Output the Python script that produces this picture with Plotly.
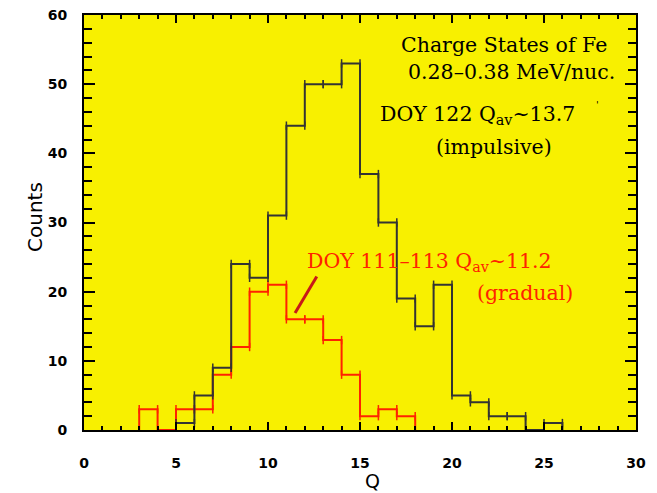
import plotly.graph_objects as go

# Fe charge-state histograms (bin left edges, counts; bin width 1)
impulsive_q = [5, 6, 7, 8, 9, 10, 11, 12, 13, 14, 15, 16, 17, 18, 19, 20, 21, 22, 23, 24, 25]
impulsive_counts = [1, 5, 9, 24, 22, 31, 44, 50, 50, 53, 37, 30, 19, 15, 21, 5, 4, 2, 2, 0, 1]

gradual_q = [3, 4, 5, 6, 7, 8, 9, 10, 11, 12, 13, 14, 15, 16, 17]
gradual_counts = [3, 0, 3, 3, 8, 12, 20, 21, 16, 16, 13, 8, 2, 3, 2]

x_ticks = [0, 5, 10, 15, 20, 25, 30]
y_ticks = [0, 10, 20, 30, 40, 50, 60]

BLACK = "#333333"
RED = "#ff2200"
YELLOW = "#f8f000"
SERIF = "DejaVu Serif"


def step_trace(q, c, color):
    xs = [q[0]] + q + [q[-1] + 1]
    ys = [0] + c + [0]
    return go.Scatter(x=xs, y=ys, mode="lines", line=dict(color=color, width=2, shape="hv"),
                      hoverinfo="skip", showlegend=False)


def edge_marks(q, c, color):
    xs, ys = [], []
    for qi, ci in zip(q, c):
        if ci > 0:
            xs += [qi, qi + 1]
            ys += [ci, ci]
    return go.Scatter(x=xs, y=ys, mode="markers",
                      marker=dict(symbol="line-ns-open", size=6, color=color,
                                  line=dict(color=color, width=1.5)),
                      hoverinfo="skip", showlegend=False)


fig = go.Figure()
fig.add_trace(step_trace(gradual_q, gradual_counts, RED))
fig.add_trace(edge_marks(gradual_q, gradual_counts, RED))
fig.add_trace(step_trace(impulsive_q, impulsive_counts, BLACK))
fig.add_trace(edge_marks(impulsive_q, impulsive_counts, BLACK))

tickfont = dict(family="DejaVu Sans", size=14, color="black", weight="bold")

fig.update_xaxes(range=[0, 30], tickvals=x_ticks, ticks="inside", ticklen=8, tickwidth=2,
                 tickcolor="black", showline=True, linecolor="black", linewidth=2,
                 mirror="allticks", showgrid=False, zeroline=False, tickfont=tickfont,
                 ticklabelstandoff=19, automargin=False, ticklabeloverflow="allow",
                 minor=dict(dtick=1, ticks="inside", ticklen=4, tickwidth=2, tickcolor="black", showgrid=False))
fig.update_yaxes(range=[0, 60], tickvals=y_ticks, ticks="inside", ticklen=11, tickwidth=2,
                 tickcolor="black", showline=True, linecolor="black", linewidth=2,
                 mirror="allticks", showgrid=False, zeroline=False, tickfont=tickfont,
                 ticklabelstandoff=12, automargin=False, ticklabeloverflow="allow",
                 minor=dict(dtick=2, ticks="inside", ticklen=8, tickwidth=2, tickcolor="black", showgrid=False))

annos = [
    dict(x=22.83, y=55.6, text="Charge States of Fe", color="black"),
    dict(x=23.26, y=51.7, text="0.28\u20130.38 MeV/nuc.", color="black"),
    dict(x=21.4, y=45.5, text="DOY 122 Q<sub>av</sub>~13.7", color="black"),
    dict(x=22.3, y=40.9, text="(impulsive)", color="black"),
    dict(x=18.75, y=24.3, text="DOY 111\u2013113 Q<sub>av</sub>~11.2", color=RED),
    dict(x=23.97, y=19.8, text="(gradual)", color=RED),
]
for a in annos:
    fig.add_annotation(x=a["x"], y=a["y"], text=a["text"], showarrow=False, xanchor="center",
                       yanchor="middle", font=dict(family=SERIF, size=20.5, color=a["color"]))

fig.add_annotation(x=27.9, y=47.0, text="'", showarrow=False, font=dict(family=SERIF, size=10, color="black"))

# red pointer stroke
fig.add_shape(type="line", x0=11.47, y0=16.9, x1=12.65, y1=22.2, line=dict(color="#c81818", width=3))

# axis titles (paper coords relative to plot area 84..636 x 15..430 px)
fig.add_annotation(xref="paper", yref="paper", x=(372 - 84) / 552, y=-(481 - 430) / 415, text="Q",
                   showarrow=False, xanchor="center", yanchor="middle",
                   font=dict(family="DejaVu Sans", size=19, color="black"))
fig.add_annotation(xref="paper", yref="paper", x=-(84 - 35) / 552, y=(430 - 217) / 415, text="Counts",
                   showarrow=False, xanchor="center", yanchor="middle", textangle=-90,
                   font=dict(family="DejaVu Sans", size=20, color="black"))

# page body has an 8px margin, so the figure is offset by 8px
fig.update_layout(width=641, height=485, margin=dict(l=76, r=13, t=7, b=63),
                  plot_bgcolor=YELLOW, paper_bgcolor="white", showlegend=False)

fig.write_html("out.html")
